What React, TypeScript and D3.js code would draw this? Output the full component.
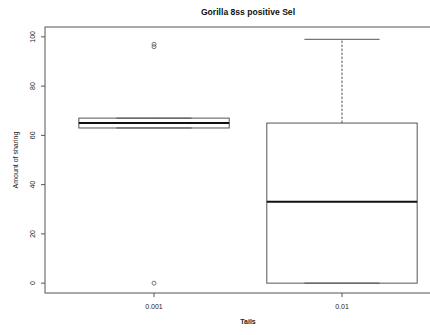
import React from "react";
import * as d3 from "d3";

// Box statistics per tail threshold
const categories = ["0.001", "0.01"];
const q1 = [63, 0];
const median = [65, 33];
const q3 = [67, 65];
const whiskerLow = [63, 0];
const whiskerHigh = [67, 99];
const outliers = [[97, 96, 0], []];
const yTicks = [0, 20, 40, 60, 80, 100];

const W = 430;
const H = 335;
const font = "'Liberation Sans', Arial, Helvetica, sans-serif";
const line = "#555";

export default function App() {
  // Plot region follows R's default 4% padding on both axes
  const x = d3.scaleLinear().domain([0.42, 2.58]).range([45, 451]);
  const y = d3.scaleLinear().domain([-4, 104]).range([293, 27]);
  const boxHalf = 0.4;
  const capHalf = 0.2;
  const [x0, x1] = x.range();
  const [yb, yt] = y.range();

  return (
    <svg width={W} height={H} style={{ position: "absolute", left: 0, top: 0, background: "#fff" }}>
      <text x={(x0 + x1) / 2} y={15} textAnchor="middle" fontFamily={font} fontWeight="bold" fontSize={8.6} fill="#111">
        Gorilla 8ss positive Sel
      </text>

      {/* frame */}
      <rect x={x0} y={yt} width={x1 - x0} height={yb - yt} fill="none" stroke={line} strokeWidth={1} />

      {/* y axis */}
      {yTicks.map((t) => (
        <g key={t}>
          <line x1={x0 - 4} x2={x0} y1={y(t)} y2={y(t)} stroke={line} />
          <text
            transform={`translate(${34.5},${y(t)}) rotate(-90)`}
            textAnchor="middle"
            fontFamily={font}
            fontSize={7}
            fill="#222"
          >
            {t}
          </text>
        </g>
      ))}
      <text
        transform={`translate(${17.5},${(yt + yb) / 2}) rotate(-90)`}
        textAnchor="middle"
        fontFamily={font}
        fontSize={7}
        fill="#222"
      >
        Amount of sharing
      </text>

      {/* x axis */}
      {categories.map((c, i) => (
        <g key={c}>
          <line x1={x(i + 1)} x2={x(i + 1)} y1={yb} y2={yb + 4} stroke={line} />
          <text x={x(i + 1)} y={308.5} textAnchor="middle" fontFamily={font} fontSize={7} fill="#222">
            {c}
          </text>
        </g>
      ))}
      <text x={(x0 + x1) / 2} y={324} textAnchor="middle" fontFamily={font} fontWeight="bold" fontSize={7} fill="#222">
        Tails
      </text>

      {/* boxes */}
      {categories.map((c, i) => {
        const cx = x(i + 1);
        const bl = x(i + 1 - boxHalf);
        const br = x(i + 1 + boxHalf);
        const cl = x(i + 1 - capHalf);
        const cr = x(i + 1 + capHalf);
        return (
          <g key={c}>
            <line x1={cx} x2={cx} y1={y(q3[i])} y2={y(whiskerHigh[i])} stroke={line} strokeDasharray="2.5,1.5" />
            <line x1={cx} x2={cx} y1={y(q1[i])} y2={y(whiskerLow[i])} stroke={line} strokeDasharray="2.5,1.5" />
            <line x1={cl} x2={cr} y1={y(whiskerHigh[i])} y2={y(whiskerHigh[i])} stroke={line} />
            <line x1={cl} x2={cr} y1={y(whiskerLow[i])} y2={y(whiskerLow[i])} stroke={line} />
            <rect x={bl} y={y(q3[i])} width={br - bl} height={y(q1[i]) - y(q3[i])} fill="none" stroke={line} />
            <line x1={bl} x2={br} y1={y(median[i])} y2={y(median[i])} stroke="#111" strokeWidth={2} />
            {outliers[i].map((v, k) => (
              <circle key={k} cx={cx} cy={y(v)} r={2} fill="none" stroke={line} strokeWidth={0.8} />
            ))}
          </g>
        );
      })}
    </svg>
  );
}
